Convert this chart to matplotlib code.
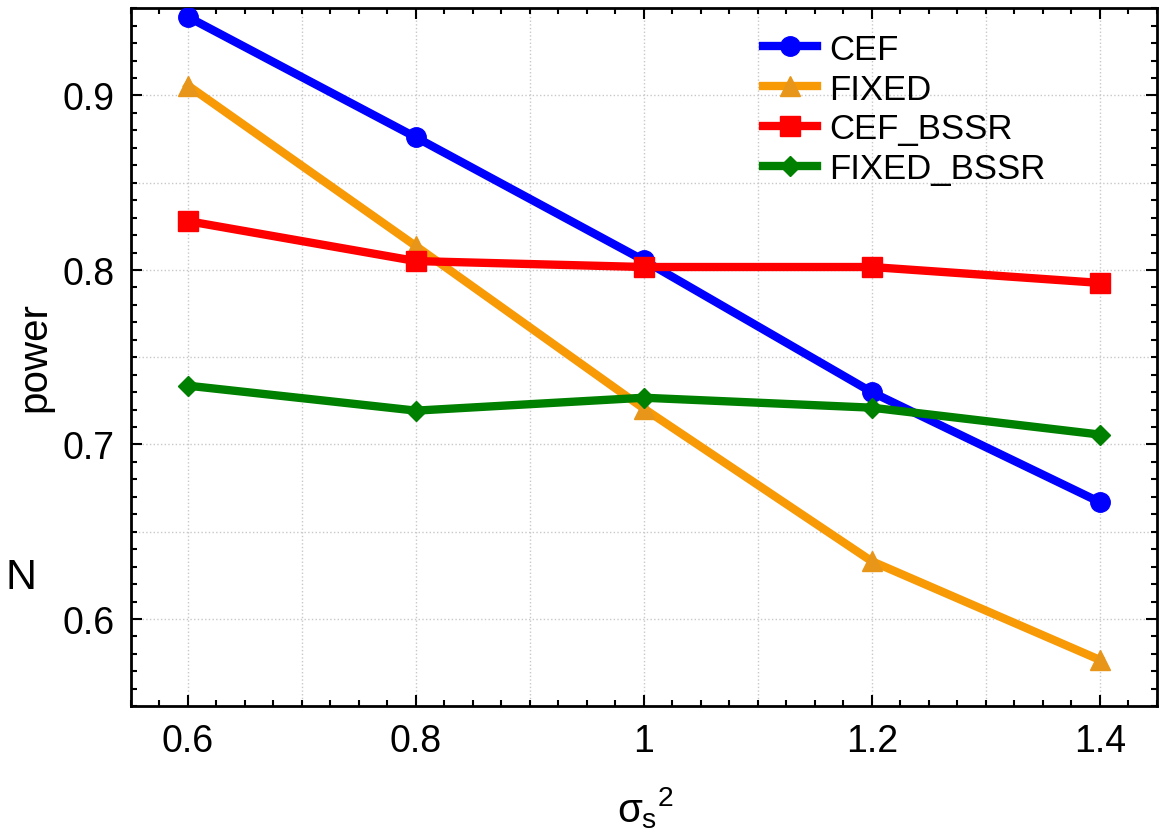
import matplotlib
matplotlib.use("Agg")
import matplotlib.pyplot as plt
from matplotlib.ticker import MultipleLocator

plt.rcParams['font.family'] = ['Liberation Sans', 'DejaVu Sans']
plt.rcParams['mathtext.fontset'] = 'custom'
plt.rcParams['mathtext.rm'] = 'Liberation Sans'
plt.rcParams['mathtext.it'] = 'Liberation Sans'
plt.rcParams['mathtext.sf'] = 'Liberation Sans'

x = [0.6, 0.8, 1.0, 1.2, 1.4]
cef = [0.945, 0.876, 0.8055, 0.730, 0.667]
fixed = [0.9057, 0.8137, 0.7206, 0.6331, 0.5766]
cef_bssr = [0.828, 0.8051, 0.8017, 0.8017, 0.7926]
fixed_bssr = [0.7337, 0.7194, 0.7268, 0.7211, 0.7057]

labels = ['CEF', 'FIXED', 'CEF_BSSR', 'FIXED_BSSR']
colors = ['#0000FF', '#F79A05', '#FF0000', '#008000']
mcolors = ['#0000FF', '#E8961A', '#FF0000', '#008000']
markers = ['o', '^', 's', 'D']
msizes = [14, 14, 14, 10]

fig = plt.figure(figsize=(11.59, 8.37), dpi=100)
ax = fig.add_axes([0.113, 0.155, 0.885, 0.834])

for ys, lab, c, mc, m, ms in zip([cef, fixed, cef_bssr, fixed_bssr], labels, colors, mcolors, markers, msizes):
    ax.plot(x, ys, color=c, lw=6, marker=m, markersize=ms, markerfacecolor=mc,
            markeredgecolor=mc, label=lab, zorder=3)

ax.set_xlim(0.55, 1.45)
ax.set_ylim(0.55, 0.95)
ax.set_xticks([0.6, 0.8, 1.0, 1.2, 1.4])
ax.set_xticklabels(['0.6', '0.8', '1', '1.2', '1.4'])
ax.set_yticks([0.6, 0.7, 0.8, 0.9])
ax.set_yticklabels(['0.6', '0.7', '0.8', '0.9'])
ax.xaxis.set_minor_locator(MultipleLocator(0.025))
ax.yaxis.set_minor_locator(MultipleLocator(0.01))
ax.tick_params(which='both', direction='in', top=True, right=True, labelsize=27, width=1.5)
ax.tick_params(which='major', length=8, pad=12)
ax.tick_params(which='minor', length=4)
for sp in ax.spines.values():
    sp.set_linewidth(2)

for gx in [0.6, 0.7, 0.8, 0.9, 1.0, 1.1, 1.2, 1.3, 1.4]:
    ax.axvline(gx, color='#c8c8c8', lw=1, ls=':', zorder=0)
for gy in [0.6, 0.65, 0.7, 0.75, 0.8, 0.85, 0.9]:
    ax.axhline(gy, color='#c8c8c8', lw=1, ls=':', zorder=0)

ax.legend(loc='upper left', bbox_to_anchor=(0.603, 0.985), frameon=False, fontsize=25,
          handlelength=1.55, handletextpad=0.35, labelspacing=0.2, borderaxespad=0)

fig.text(0.030, 0.573, 'power', rotation=90, fontsize=29, ha='center', va='center')
fig.text(0.018, 0.31, 'N', fontsize=31, ha='center', va='center')
fig.text(0.557, 0.035, r'$\sigma_{\rm s}{}^{2}$', fontsize=29, ha='center', va='center')

fig.savefig('out.png', dpi=100)
